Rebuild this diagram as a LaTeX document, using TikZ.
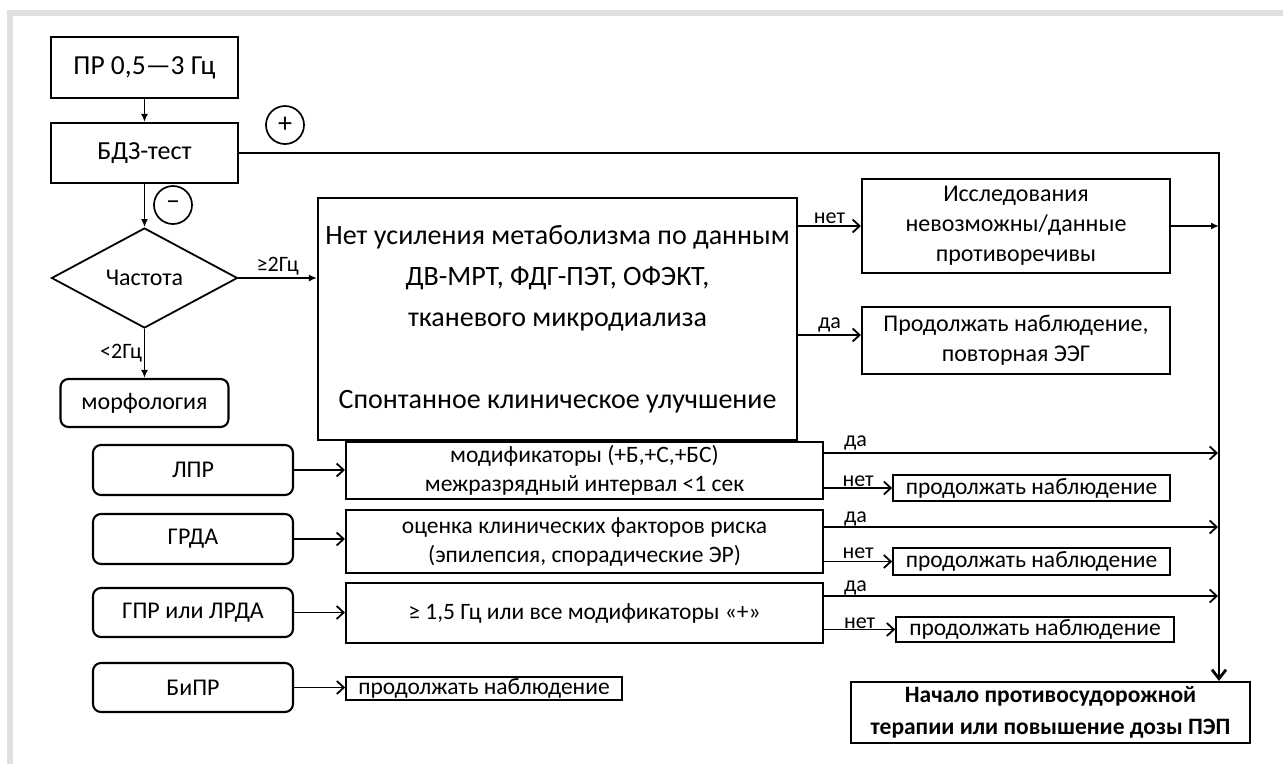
\documentclass[tikz,border=0pt]{standalone}
\usepackage{fontspec}
\setmainfont{Carlito}
\usetikzlibrary{shapes.geometric,arrows.meta}
\definecolor{framegray}{RGB}{221,224,224}
\newcommand\fsBig{\fontsize{28}{41}\selectfont}
\newcommand\fsMid{\fontsize{24}{30}\selectfont}
\newcommand\fsSm{\fontsize{23.5}{29}\selectfont}
\newcommand\fsLbl{\fontsize{22}{26}\selectfont}

\begin{document}
\begin{tikzpicture}[x=1pt,y=-1pt,
  box/.style={draw,line width=2.1pt,inner sep=0pt,align=center,font=\fsMid},
  rbox/.style={box,rounded corners=8pt},
  sign/.style={draw,circle,line width=1.7pt,inner sep=0pt,minimum size=38pt,font=\fontsize{28}{30}\selectfont},
  lbl/.style={inner sep=1.5pt,font=\fsLbl},
  tip/.style={line width=1.8pt,-{Latex[length=8pt,width=7pt]}},
  opn/.style={line width=1.8pt,-{Straight Barb[length=7pt,width=13pt]}},
  bus/.style={line width=2.8pt,-{Straight Barb[length=9pt,width=14pt]}}]
\useasboundingbox (0,0) rectangle (1283,764);
\fill[framegray] (7,10) rectangle (1283,16);
\fill[framegray] (7,10) rectangle (13,764);

\node[box,minimum width=187pt,minimum height=61pt,font=\fontsize{27.5}{30}\selectfont] (pr) at (144.5,67.5) {ПР 0,5—3 Гц};
\node[box,minimum width=187pt,minimum height=60pt,font=\fontsize{26}{30}\selectfont] (bdz) at (144.5,153) {БДЗ-тест};
\node[sign] (plus) at (285,125) {+};
\node[sign] (minus) at (173,205) {–};
\node[draw,diamond,line width=1.8pt,inner sep=0pt,minimum width=186pt,minimum height=100pt,font=\fsMid] (freq) at (144.5,278) {Частота};
\node[rbox,minimum width=168pt,minimum height=48pt,font=\fsMid] (morph) at (144.5,403) {морфология};

\node[box,minimum width=479pt,minimum height=242pt,font=\fsBig] (big) at (557.5,319)
  {Нет усиления метаболизма по данным\\ДВ-МРТ, ФДГ-ПЭТ, ОФЭКТ,\\тканевого микродиализа\\[41pt]Спонтанное клиническое улучшение};
\node[box,minimum width=308pt,minimum height=94pt] (issl) at (1016,226) {Исследования\\невозможны/данные\\противоречивы};
\node[box,minimum width=308pt,minimum height=67pt] (cont0) at (1016,340.5) {Продолжать наблюдение,\\повторная ЭЭГ};

\node[rbox,minimum width=200pt,minimum height=50pt] (lpr) at (193,470) {ЛПР};
\node[rbox,minimum width=200pt,minimum height=50pt] (grda) at (193,539) {ГРДА};
\node[rbox,minimum width=200pt,minimum height=49pt] (gpr) at (193,612.5) {ГПР или ЛРДА};
\node[rbox,minimum width=200pt,minimum height=49pt] (bipr) at (193,687.5) {БиПР};

\node[box,minimum width=477pt,minimum height=57pt,font=\fsSm] (mod) at (584.5,470.5) {модификаторы (+Б,+С,+БС)\\межразрядный интервал <1 сек};
\node[box,minimum width=477pt,minimum height=63pt,font=\fsSm] (risk) at (584.5,541.5) {оценка клинических факторов риска\\(эпилепсия, спорадические ЭР)};
\node[box,minimum width=477pt,minimum height=60pt,font=\fsSm] (fqb) at (584.5,613) {≥ 1,5 Гц или все модификаторы «+»};

\node[box,line width=1.7pt,minimum width=277pt,minimum height=26pt,font=\fsSm] (cont1) at (1031.5,488) {продолжать наблюдение};
\node[box,line width=1.7pt,minimum width=277pt,minimum height=27pt,font=\fsSm] (cont2) at (1031.5,561.5) {продолжать наблюдение};
\node[box,line width=1.7pt,minimum width=278pt,minimum height=25pt,font=\fsSm] (cont3) at (1035,629.5) {продолжать наблюдение};
\node[box,line width=1.7pt,minimum width=276pt,minimum height=23pt,font=\fsSm] (cont4) at (484,688.5) {продолжать наблюдение};

\node[box,minimum width=399pt,minimum height=61pt,font=\bfseries\fontsize{23.5}{32}\selectfont] (fin) at (1050.5,712.5)
  {Начало противосудорожной\\терапии или повышение дозы ПЭП};

\coordinate (bus0) at (1219,153);
\coordinate (bus1) at (1218,453);
\coordinate (bus2) at (1218,527);
\coordinate (bus3) at (1218,596);
\coordinate (c0) at ([yshift=5.5pt]cont0.west);

\draw[tip] (pr) -- (bdz);
\draw[tip] (bdz) -- (freq);
\draw[tip] (freq.east) -- node[lbl,above]{≥2Гц} (freq.east -| big.west);
\draw[tip] (freq) -- node[lbl,left]{<2Гц} (morph);
\draw[bus] (bdz.east) -- (bus0) -- (bus0 |- fin.north);
\draw[opn] (issl.west -| big.east) -- node[lbl,above]{нет} (issl.west);
\draw[opn] (c0 -| big.east) -- node[lbl,above]{да} (c0);
\draw[tip] (issl.east) -- (issl.east -| bus0);

\draw[opn] (lpr) -- (lpr -| mod.west);
\draw[opn] (grda) -- (grda -| risk.west);
\draw[opn] (gpr) -- (gpr -| fqb.west);
\draw[opn] (bipr) -- (bipr -| cont4.west);

\draw[opn] (bus1 -| mod.east) -- node[lbl,above,pos=.08]{да} (bus1);
\draw[opn] (cont1.west -| mod.east) -- node[lbl,above,inner sep=0pt]{нет} (cont1.west);
\draw[opn] (bus2 -| risk.east) -- node[lbl,above,inner sep=0pt,pos=.08]{да} (bus2);
\draw[opn] (cont2.west -| risk.east) -- node[lbl,above]{нет} (cont2.west);
\draw[opn] (bus3 -| fqb.east) -- node[lbl,above,inner sep=0pt,pos=.08]{да} (bus3);
\draw[opn] (cont3.west -| fqb.east) -- node[lbl,above,inner sep=0pt]{нет} (cont3.west);
\end{tikzpicture}
\end{document}
